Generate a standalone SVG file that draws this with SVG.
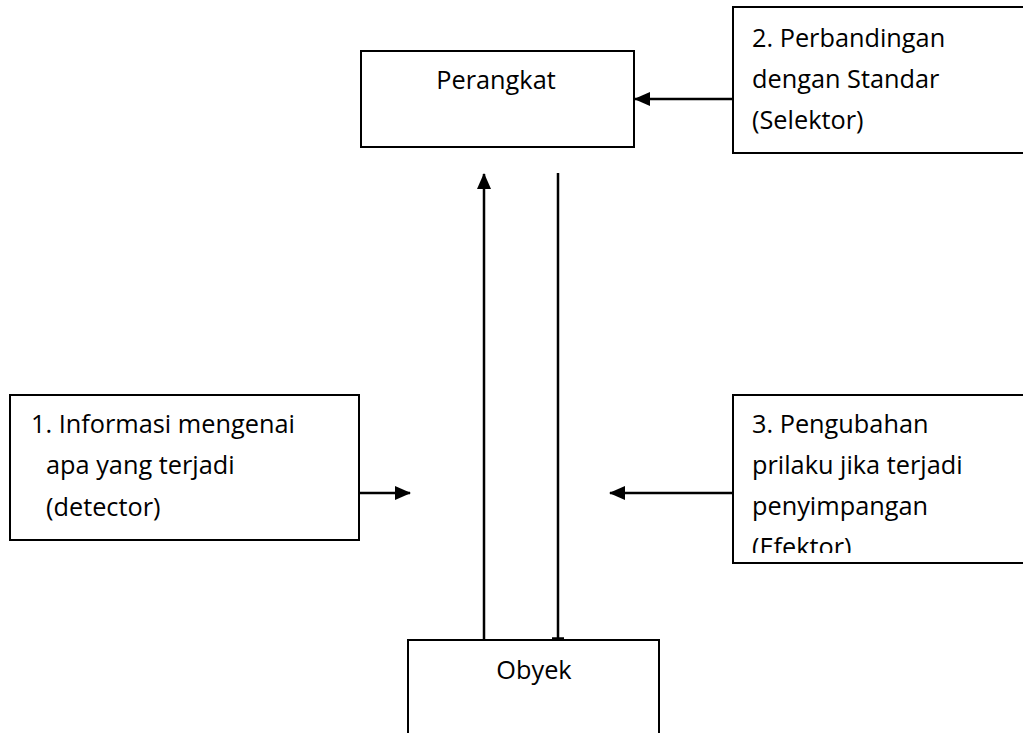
<svg xmlns="http://www.w3.org/2000/svg" width="1023" height="733" viewBox="0 0 1023 733">
<style>
.box{fill:#fff;stroke:#000;stroke-width:2}
.t{font-family:"Open Sans","Liberation Sans",sans-serif;font-size:25.3px;fill:#000}
.c{stroke:#000;stroke-width:2.5;fill:none}
</style>
<defs>
<marker id="ahv" markerWidth="16" markerHeight="14" refX="15" refY="7" orient="auto" markerUnits="userSpaceOnUse" viewBox="0 0 16 14">
<path d="M0,0 L16,7 L0,14 z" fill="#000"/>
</marker>
<clipPath id="cp3"><rect x="733" y="395" width="300" height="158"/></clipPath>
</defs>
<g id="perangkat">
<rect class="box" x="361" y="51" width="273" height="96"/>
<text class="t" x="496" y="89" text-anchor="middle">Perangkat</text>
</g>
<g id="selektor">
<rect class="box" x="733" y="7" width="300" height="146"/>
<text class="t" x="752" y="47">2. Perbandingan</text>
<text class="t" x="752" y="88">dengan Standar</text>
<text class="t" x="752" y="129">(Selektor)</text>
</g>
<g id="detector">
<rect class="box" x="10" y="395" width="349" height="145"/>
<text class="t" x="31" y="433">1. Informasi mengenai</text>
<text class="t" x="46" y="474">apa yang terjadi</text>
<text class="t" x="46" y="516">(detector)</text>
</g>
<g id="efektor">
<rect class="box" x="733" y="395" width="300" height="168"/>
<g clip-path="url(#cp3)">
<text class="t" x="752" y="433">3. Pengubahan</text>
<text class="t" x="752" y="474">prilaku jika terjadi</text>
<text class="t" x="752" y="515">penyimpangan</text>
<text class="t" x="752" y="556">(Efektor)</text>
</g>
</g>
<g id="obyek">
<rect class="box" x="408" y="640" width="251" height="100"/>
<text class="t" x="534" y="679" text-anchor="middle">Obyek</text>
</g>
<g id="connectors">
<line class="c" x1="733" y1="99" x2="635" y2="99" marker-end="url(#ahv)"/>
<line class="c" x1="359" y1="493" x2="410" y2="493" marker-end="url(#ahv)"/>
<line class="c" x1="733" y1="493" x2="610" y2="493" marker-end="url(#ahv)"/>
<line class="c" x1="484" y1="640" x2="484" y2="174" marker-end="url(#ahv)"/>
<line class="c" x1="558" y1="173" x2="558" y2="640"/>
<line class="c" x1="552" y1="638.5" x2="564" y2="638.5"/>
</g>
</svg>
